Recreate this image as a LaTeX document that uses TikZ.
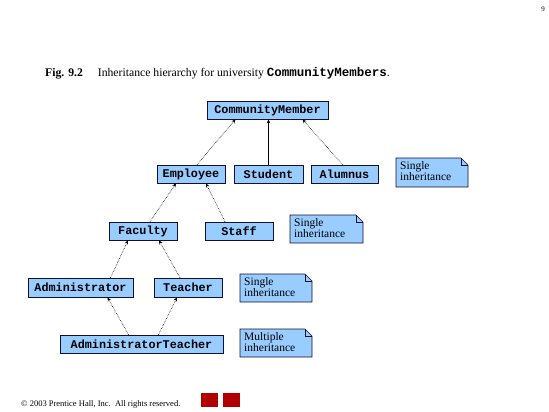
\documentclass[tikz,border=0pt]{standalone}
\usepackage{fontspec}
\setmainfont{Liberation Serif}
\setmonofont{Liberation Mono}
\usetikzlibrary{arrows.meta,calc}
\definecolor{boxblue}{HTML}{99CCFF}
\definecolor{edge}{HTML}{101030}
\definecolor{squarered}{HTML}{B00000}
\begin{document}
\begin{tikzpicture}[x=1pt,y=-1pt,
  classbox/.style={draw=edge,line width=0.7pt,fill=boxblue,inner sep=0pt,minimum height=18pt,
    font=\fontsize{11.8}{12}\selectfont\ttfamily\bfseries},
  notetext/.style={anchor=north west,inner sep=0pt,align=left,
    font=\fontsize{11.5}{11.5}\selectfont},
  notebg/.style={fill=boxblue,draw=edge,line width=0.7pt,line join=miter},
  inh/.style={densely dotted,line width=0.6pt,-{Stealth[length=4pt,width=3.5pt]}},
  inhsolid/.style={line width=0.6pt,-{Stealth[length=4pt,width=3.5pt]}}]
\useasboundingbox (0,0) rectangle (549,412);

% page number and title
\node[anchor=base east,inner sep=0pt,font=\fontsize{7}{8}\selectfont] (pg) at (545,12) {9};
\node[anchor=base west,inner sep=0pt,font=\fontsize{11.7}{12}\selectfont] (title) at (45,77)
  {\textbf{Fig. 9.2}\hspace{15pt}Inheritance hierarchy for university {\fontsize{12.5}{12}\selectfont\ttfamily\bfseries CommunityMembers}.};

% classes
\node[classbox,minimum width=121pt] (cm) at (267.5,110) {CommunityMember};
\node[classbox,minimum width=68pt] (emp) at (191,174) {Employee};
\node[classbox,minimum width=69pt] (stu) at (268.5,174) {Student};
\node[classbox,minimum width=67pt] (alu) at (344.5,174) {Alumnus};
\node[classbox,minimum width=68pt] (fac) at (143,231) {Faculty};
\node[classbox,minimum width=68pt] (sta) at (239,231) {Staff};
\node[classbox,minimum width=105pt,minimum height=19pt] (adm) at (80.5,287.5) {Administrator};
\node[classbox,minimum width=68pt,minimum height=19pt] (tea) at (188,287.5) {Teacher};
\node[classbox,minimum width=163pt] (at) at (141.5,344) {AdministratorTeacher};

% notes
\coordinate (n1nw) at (396,158); \coordinate (n1se) at (468,187);
\coordinate (n2nw) at (290,215); \coordinate (n2se) at (363,243);
\coordinate (n3nw) at (240,274); \coordinate (n3se) at (312,302);
\coordinate (n4nw) at (240,329); \coordinate (n4se) at (312,357);
\foreach \n in {n1,n2,n3,n4}{
  \coordinate (\n ne) at (\n nw -| \n se);
  \coordinate (\n fa) at ($(\n ne)+(-7,0)$);
  \coordinate (\n fb) at ($(\n ne)+(0,7)$);
  \coordinate (\n fc) at ($(\n ne)+(-7,7)$);
  \path[notebg] (\n nw) -- (\n fa) -- (\n fb) -- (\n se) -- (\n nw |- \n se) -- cycle;
  \draw[edge,line width=0.4pt] (\n fa) -- (\n fc) -- (\n fb);
}
\node[notetext] (t1) at ($(n1nw)+(4,3)$) {Single\\inheritance};
\node[notetext] (t2) at ($(n2nw)+(4,3)$) {Single\\inheritance};
\node[notetext] (t3) at ($(n3nw)+(4,3)$) {Single\\inheritance};
\node[notetext] (t4) at ($(n4nw)+(4,3)$) {Multiple\\inheritance};

% inheritance arrows
\draw[inh] ([xshift=6pt]emp.north) -- ([xshift=-32pt]cm.south);
\draw[inhsolid] (stu.north) -- (stu.north |- cm.south);
\draw[inh] ([xshift=-2pt]alu.north) -- ([xshift=35pt]cm.south);
\draw[inh] ([xshift=7pt]fac.north) -- ([xshift=-15pt]emp.south);
\draw[inh] ([xshift=-14pt]sta.north) -- ([xshift=15pt]emp.south);
\draw[inh] ([xshift=30pt]adm.north) -- ([xshift=-15pt]fac.south);
\draw[inh] ([xshift=-8pt]tea.north) -- ([xshift=16pt]fac.south);
\draw[inh] ([xshift=-13pt]at.north) -- ([xshift=27pt]adm.south);
\draw[inh] ([xshift=17pt]at.north) -- ([xshift=-11pt]tea.south);

% footer
\node[anchor=base west,inner sep=0pt,font=\fontsize{8.5}{9}\selectfont] (foot) at (21,406)
  {\textcopyright\ 2003 Prentice Hall, Inc.\ \ All rights reserved.};
\node[fill=squarered,inner sep=0pt,minimum width=17pt,minimum height=14pt] (sq1) at (209.5,400) {};
\node[fill=squarered,inner sep=0pt,minimum width=17pt,minimum height=14pt] (sq2) at (231.5,400) {};
\end{tikzpicture}
\end{document}
